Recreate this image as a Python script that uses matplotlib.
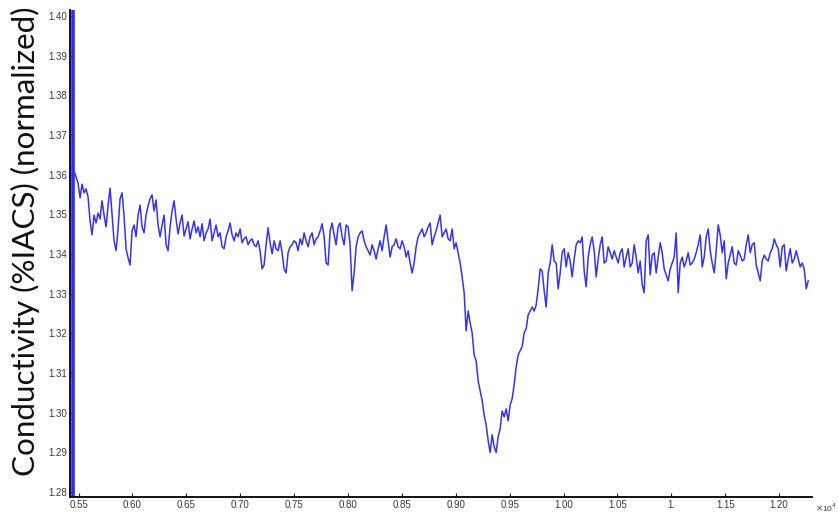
import numpy as np
import matplotlib
matplotlib.use("Agg")
import matplotlib.pyplot as plt

# Normalized conductivity scan (%IACS), uniformly sampled along the scan axis
scan_start = 0.5440
scan_step = 0.001856
conductivity = [
    1.3617, 1.3609, 1.3594, 1.3579, 1.3541, 1.3576, 1.3554, 1.3564, 1.3544, 1.3483,
    1.3448, 1.3498, 1.3478, 1.3503, 1.3488, 1.3534, 1.3498, 1.3468, 1.3521, 1.3566,
    1.3498, 1.3433, 1.3408, 1.3463, 1.3539, 1.3554, 1.3496, 1.3413, 1.3390, 1.3372,
    1.3458, 1.3473, 1.3443, 1.3498, 1.3523, 1.3468, 1.3453, 1.3498, 1.3521, 1.3539,
    1.3549, 1.3508, 1.3536, 1.3473, 1.3443, 1.3473, 1.3498, 1.3423, 1.3408, 1.3468,
    1.3508, 1.3534, 1.3488, 1.3450, 1.3478, 1.3498, 1.3445, 1.3463, 1.3481, 1.3438,
    1.3463, 1.3483, 1.3453, 1.3468, 1.3443, 1.3476, 1.3433, 1.3453, 1.3463, 1.3488,
    1.3433, 1.3453, 1.3473, 1.3443, 1.3453, 1.3418, 1.3413, 1.3443, 1.3458, 1.3478,
    1.3448, 1.3433, 1.3453, 1.3443, 1.3463, 1.3428, 1.3438, 1.3443, 1.3423, 1.3433,
    1.3438, 1.3423, 1.3418, 1.3433, 1.3408, 1.3362, 1.3372, 1.3423, 1.3466, 1.3428,
    1.3400, 1.3433, 1.3413, 1.3408, 1.3433, 1.3403, 1.3362, 1.3352, 1.3403, 1.3418,
    1.3423, 1.3433, 1.3428, 1.3408, 1.3438, 1.3423, 1.3453, 1.3433, 1.3418, 1.3443,
    1.3453, 1.3423, 1.3438, 1.3443, 1.3458, 1.3476, 1.3443, 1.3377, 1.3372, 1.3458,
    1.3478, 1.3448, 1.3423, 1.3468, 1.3478, 1.3443, 1.3423, 1.3473, 1.3468, 1.3423,
    1.3307, 1.3352, 1.3418, 1.3443, 1.3453, 1.3458, 1.3433, 1.3418, 1.3408, 1.3397,
    1.3423, 1.3408, 1.3387, 1.3413, 1.3433, 1.3408, 1.3443, 1.3473, 1.3433, 1.3392,
    1.3418, 1.3423, 1.3438, 1.3418, 1.3413, 1.3433, 1.3418, 1.3392, 1.3408, 1.3377,
    1.3352, 1.3377, 1.3418, 1.3443, 1.3453, 1.3463, 1.3443, 1.3453, 1.3468, 1.3478,
    1.3423, 1.3443, 1.3458, 1.3478, 1.3498, 1.3443, 1.3453, 1.3463, 1.3438, 1.3433,
    1.3463, 1.3413, 1.3428, 1.3403, 1.3377, 1.3342, 1.3302, 1.3206, 1.3256, 1.3226,
    1.3201, 1.3145, 1.3130, 1.3080, 1.3055, 1.3030, 1.2994, 1.2969, 1.2929, 1.2899,
    1.2944, 1.2914, 1.2899, 1.2939, 1.2959, 1.3004, 1.2989, 1.3009, 1.2979, 1.3019,
    1.3035, 1.3070, 1.3115, 1.3145, 1.3156, 1.3166, 1.3201, 1.3211, 1.3246, 1.3256,
    1.3266, 1.3256, 1.3271, 1.3312, 1.3362, 1.3357, 1.3307, 1.3266, 1.3352, 1.3377,
    1.3423, 1.3382, 1.3377, 1.3312, 1.3352, 1.3403, 1.3413, 1.3367, 1.3403, 1.3382,
    1.3342, 1.3387, 1.3423, 1.3433, 1.3428, 1.3443, 1.3357, 1.3317, 1.3392, 1.3423,
    1.3443, 1.3408, 1.3342, 1.3387, 1.3423, 1.3443, 1.3377, 1.3382, 1.3418, 1.3403,
    1.3387, 1.3408, 1.3392, 1.3377, 1.3403, 1.3413, 1.3367, 1.3392, 1.3413, 1.3367,
    1.3377, 1.3423, 1.3392, 1.3352, 1.3382, 1.3322, 1.3302, 1.3433, 1.3448, 1.3347,
    1.3397, 1.3403, 1.3352, 1.3392, 1.3428, 1.3403, 1.3362, 1.3347, 1.3332, 1.3362,
    1.3377, 1.3392, 1.3453, 1.3302, 1.3377, 1.3392, 1.3367, 1.3382, 1.3403, 1.3372,
    1.3377, 1.3387, 1.3403, 1.3423, 1.3448, 1.3367, 1.3392, 1.3443, 1.3463, 1.3408,
    1.3377, 1.3352, 1.3408, 1.3473, 1.3448, 1.3403, 1.3433, 1.3337, 1.3377, 1.3397,
    1.3418, 1.3377, 1.3372, 1.3408, 1.3397, 1.3382, 1.3387, 1.3423, 1.3448, 1.3403,
    1.3423, 1.3428, 1.3372, 1.3352, 1.3332, 1.3382, 1.3397, 1.3387, 1.3382, 1.3403,
    1.3413, 1.3438, 1.3423, 1.3413, 1.3367, 1.3418, 1.3423, 1.3357, 1.3387, 1.3413,
    1.3377, 1.3387, 1.3408, 1.3387, 1.3367, 1.3377, 1.3362, 1.3312, 1.3332,
]

# Lift-off transient at the start of the scan (vertical trace)
liftoff_x = [0.5449, 0.5449]
liftoff_y = [1.2780, 1.4030]

x_ticks = [0.55, 0.60, 0.65, 0.70, 0.75, 0.80, 0.85, 0.90, 0.95, 1.00, 1.05, 1.10, 1.15, 1.20]
x_tick_labels = ["0.55", "0.60", "0.65", "0.70", "0.75", "0.80", "0.85", "0.90",
                 "0.95", "1.00", "1.05", "1.", "1.15", "1.20"]
y_ticks = [1.28, 1.29, 1.30, 1.31, 1.32, 1.33, 1.34, 1.35, 1.36, 1.37, 1.38, 1.39, 1.40]
y_tick_labels = ["1.28", "1.29", "1.30", "1.31", "1.32", "1.33", "1.34", "1.35",
                 "1.36", "1.37", "1.38", "1.39", "1.40"]
y_label = "Conductivity (%IACS) (normalized)"
x_multiplier = r"$\times$10$^4$"

scan_x = scan_start + scan_step * np.arange(len(conductivity))

fig = plt.figure(figsize=(8.38, 5.13), dpi=100)
ax = fig.add_axes([70 / 838, 1 - 497 / 513, (812 - 70) / 838, (497 - 10) / 513])

ax.plot(liftoff_x, liftoff_y, color="#2b2bff", linewidth=2.6, solid_capstyle="butt")
ax.plot(scan_x, conductivity, color="#3434f0", linewidth=1.1)

ax.set_xlim(0.5421, 1.2305)
ax.set_ylim(1.2787, 1.4015)

tick_font = dict(family="Liberation Sans", size=7, color="#3a3a3a")
ax.set_xticks(x_ticks)
ax.set_xticklabels(x_tick_labels, **tick_font)
ax.set_yticks(y_ticks)
ax.set_yticklabels(y_tick_labels, **tick_font)
ax.tick_params(axis="both", direction="in", length=3, width=0.8, color="#222222", pad=2)

for side in ("top", "right"):
    ax.spines[side].set_visible(False)
for side in ("left", "bottom"):
    ax.spines[side].set_linewidth(1.4)
    ax.spines[side].set_color("#111111")

fig.text(25 / 838, 1 - 241 / 513, y_label, rotation=90, ha="center", va="center",
         family="Lato", fontsize=22.6, color="#111111")
fig.text(815 / 838, 1 - 508 / 513, x_multiplier, ha="left", va="center",
         family="Liberation Sans", fontsize=6, color="#3a3a3a")

fig.savefig("out.png", dpi=100, facecolor="white")
